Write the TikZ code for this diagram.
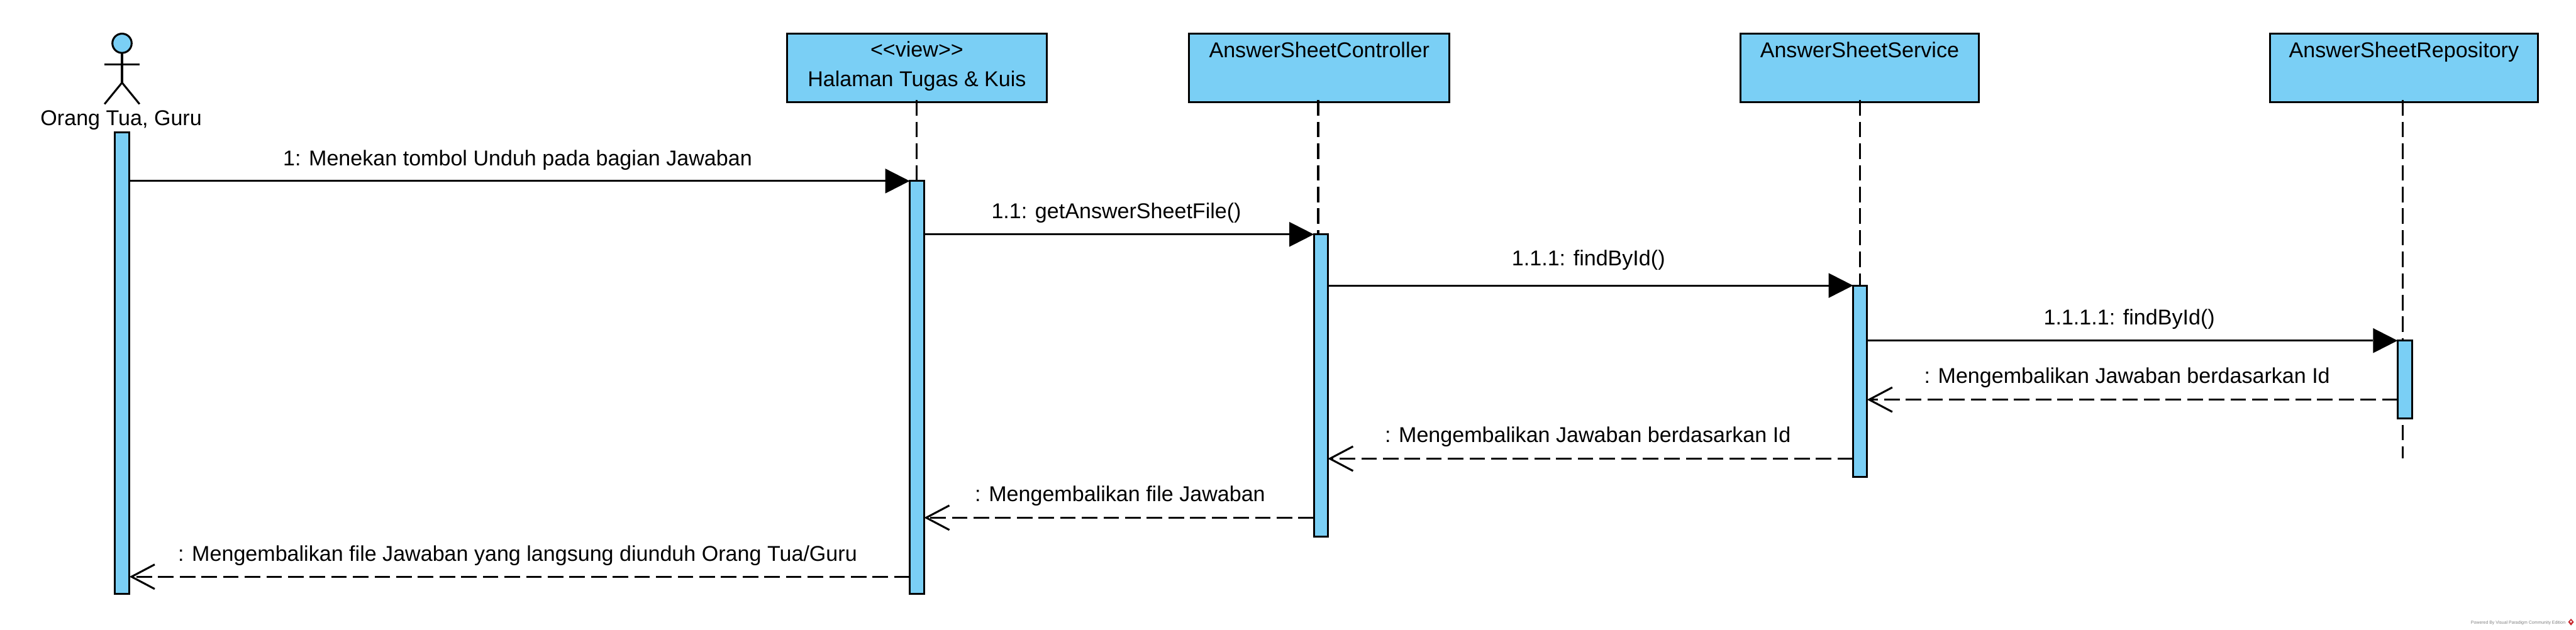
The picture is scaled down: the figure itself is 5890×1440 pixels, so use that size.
\documentclass[tikz,border=0pt]{standalone}
\usepackage{fontspec}
\setmainfont{Liberation Sans}
\usetikzlibrary{arrows.meta,calc}
\definecolor{vpblue}{HTML}{7ACFF5}
\definecolor{vpred}{HTML}{C8262C}
\tikzset{
  lbl/.style={inner sep=0pt,outer sep=0pt,anchor=base,font=\fontsize{49}{72}\selectfont},
  obj/.style={draw=black,fill=vpblue,line width=4.4pt,rectangle,inner sep=0pt,outer sep=0pt,anchor=north,align=center,minimum height=156pt,font=\fontsize{49}{72}\selectfont},
  act/.style={draw=black,fill=vpblue,line width=4.4pt,rectangle,inner sep=0pt,outer sep=0pt,anchor=north},
  lifeline/.style={line width=4.4pt,dash pattern=on 35.5pt off 14pt},
  call/.style={line width=4.4pt,-{Triangle[length=56pt,width=57pt,line width=0pt]}},
  ret/.style={line width=4.4pt,dash pattern=on 35.5pt off 14pt,-{Straight Barb[length=53pt,width=56pt,line width=4.4pt]}},
  actline/.style={line width=4.4pt}
}
\begin{document}
\begin{tikzpicture}[x=1pt,y=-1pt]
\useasboundingbox (0,0) rectangle (5890,1440);
\fill[white] (0,0) rectangle (5890,1440);
% actor
\node[draw=black,fill=vpblue,line width=4.4pt,circle,minimum size=44pt,inner sep=0pt,outer sep=0pt] (head) at (279,99) {};
\coordinate (hip) at (279,189);
\coordinate (armL) at (239,148);
\coordinate (armR) at (319,148);
\coordinate (legL) at (239,238);
\coordinate (legR) at (319,238);
\draw[actline] (head.south) -- (hip);
\draw[actline] (armL) -- (armR);
\draw[actline] (legL) -- (hip) -- (legR);
\node[lbl] (actorname) at (277,287) {Orang Tua, Guru};
% objects
\node[obj,minimum width=593pt,text height=121pt,text depth=35pt] (b2) at (2096.5,77) {<{}<view>{}>\\[-4pt]Halaman Tugas \& Kuis};
\node[obj,minimum width=595pt,text height=54pt,text depth=102pt] (b3) at (3016.5,77) {AnswerSheetController};
\node[obj,minimum width=546pt,text height=54pt,text depth=102pt] (b4) at (4252,77) {AnswerSheetService};
\node[obj,minimum width=613pt,text height=54pt,text depth=102pt] (b5) at (5496.5,77) {AnswerSheetRepository};
% lifeline positions
\coordinate (l2) at (2096,0);
\coordinate (l3) at (3014,0);
\coordinate (l4) at (4253,0);
\coordinate (l5) at (5494,0);
\coordinate (l5end) at (5494,1048);
\draw[lifeline] ([yshift=4pt]l2 |- b2.south) -- (l2 |- 0,414);
\draw[lifeline] ([yshift=4pt]l3 |- b3.south) -- (l3 |- 0,535);
\draw[lifeline] ([yshift=4pt]l4 |- b4.south) -- (l4 |- 0,653);
\draw[lifeline] ([yshift=4pt]l5 |- b5.south) -- (l5end);
% activations
\node[act,minimum width=34pt,minimum height=1055pt] (a1) at (279,303) {};
\node[act,minimum width=33pt,minimum height=944pt] (a2) at (2096.5,414) {};
\node[act,minimum width=32pt,minimum height=692pt] (a3) at (3020,535) {};
\node[act,minimum width=32pt,minimum height=438pt] (a4) at (4253,653) {};
\node[act,minimum width=33pt,minimum height=178pt] (a5) at (5498.5,779) {};
% message levels
\coordinate (y1) at (0,414);
\coordinate (y2) at (0,536);
\coordinate (y3) at (0,653);
\coordinate (y4) at (0,779);
\coordinate (y5) at (0,914);
\coordinate (y6) at (0,1049);
\coordinate (y7) at (0,1184);
\coordinate (y8) at (0,1319);
% messages
\draw[call] (a1.east |- y1) -- (a2.west |- y1);
\draw[call] (a2.east |- y2) -- (a3.west |- y2);
\draw[call] (a3.east |- y3) -- (a4.west |- y3);
\draw[call] (a4.east |- y4) -- (a5.west |- y4);
\draw[ret] (a5.west |- y5) -- (a4.east |- y5);
\draw[ret] (a4.west |- y6) -- (a3.east |- y6);
\draw[ret] (a3.west |- y7) -- (a2.east |- y7);
\draw[ret] (a2.west |- y8) -- (a1.east |- y8);
% labels
\node[lbl] (t1) at (1183.5,379) {1: Menekan tombol Unduh pada bagian Jawaban};
\node[lbl] (t2) at (2552.5,499) {1.1: getAnswerSheetFile()};
\node[lbl] (t3) at (3632,607) {1.1.1: findById()};
\node[lbl] (t4) at (4868.5,742) {1.1.1.1: findById()};
\node[lbl] (t5) at (4863.5,877) {: Mengembalikan Jawaban berdasarkan Id};
\node[lbl] (t6) at (3630.5,1012) {: Mengembalikan Jawaban berdasarkan Id};
\node[lbl] (t7) at (2561,1147) {: Mengembalikan file Jawaban};
\node[lbl] (t8) at (1183.5,1283) {: Mengembalikan file Jawaban yang langsung diunduh Orang Tua/Guru};
% watermark
\node[inner sep=0pt,anchor=base east,text=gray,font=\fontsize{10}{12}\selectfont] (wm) at (5866,1427) {Powered By Visual Paradigm Community Edition};
\fill[vpred] (5878.5,1415) -- (5885,1422.5) -- (5878.5,1430.5) -- (5872,1422.5) -- cycle;
\fill[white] (5878.5,1419) -- (5881,1422) -- (5878.5,1424.5) -- (5876,1422) -- cycle;
\end{tikzpicture}
\end{document}
